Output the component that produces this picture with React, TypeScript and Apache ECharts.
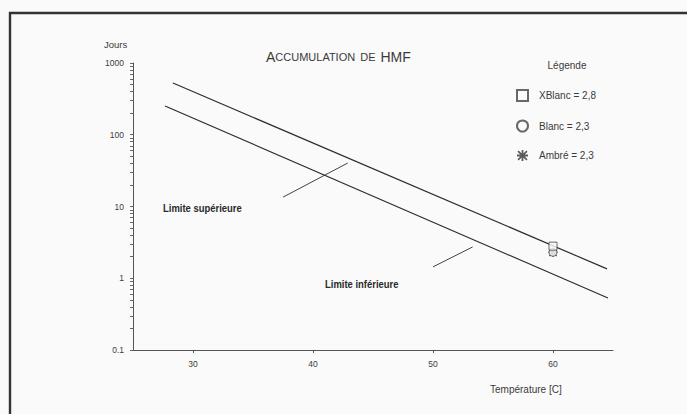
import React, { useEffect, useRef } from "react";
import * as echarts from "echarts";

// ---- data ----
const xTickValues = [30, 40, 50, 60];
const yMajorValues = [0.1, 1, 10, 100, 1000];
const upperLimit: [number, number][] = [
  [28.33, 526],
  [64.5, 1.35],
];
const lowerLimit: [number, number][] = [
  [27.67, 252],
  [64.58, 0.53],
];
const upperLeader: [number, number][] = [
  [37.5, 13.5],
  [42.9, 40.4],
];
const lowerLeader: [number, number][] = [
  [50.0, 1.44],
  [53.3, 2.73],
];
const sampleNames = ["XBlanc = 2,8", "Blanc = 2,3", "Ambré = 2,3"];
const sampleValues = [2.8, 2.3, 2.3];
const sampleTemp = 60;

const FONT = "'Liberation Sans', Arial, sans-serif";
const INK = "#3a3a3a";

const asterisk =
  "path://M0,4.2 L10,4.2 L10,5.8 L0,5.8 Z M4.2,0 L5.8,0 L5.8,10 L4.2,10 Z M1.5,0.4 L9.6,8.5 L8.5,9.6 L0.4,1.5 Z M8.5,0.4 L9.6,1.5 L1.5,9.6 L0.4,8.5 Z";

export default function App() {
  const ref = useRef<HTMLDivElement>(null);
  useEffect(() => {
    if (!ref.current) return;
    const chart = echarts.init(ref.current, undefined, { renderer: "svg" });

    const minorTicks: number[] = [];
    for (let i = 0; i < yMajorValues.length - 1; i++) {
      for (let k = 1; k <= 9; k++) minorTicks.push(yMajorValues[i] * k);
    }
    minorTicks.push(yMajorValues[yMajorValues.length - 1]);

    const symbols = ["rect", "circle", asterisk];
    const sampleSeries = sampleNames.map((name, i) => ({
      name,
      type: "scatter",
      symbol: symbols[i],
      symbolSize: i === 2 ? 9 : 8,
      z: 5 - i,
      itemStyle:
        i === 2
          ? { color: "#333", borderWidth: 0 }
          : { color: "#fafafa", borderColor: "#444", borderWidth: 1 },
      data: [[sampleTemp, sampleValues[i]]],
    }));

    const plainLine = (data: [number, number][], width = 1.2) => ({
      type: "line",
      data,
      showSymbol: false,
      symbol: "none",
      silent: true,
      lineStyle: { color: "#2e2e2e", width },
    });

    chart.setOption({
      animation: false,
      backgroundColor: "#fafafa",
      title: {
        left: 261,
        top: 43,
        text: "{b|A}{s|CCUMULATION} {s|DE} {b|HMF}",
        textStyle: {
          fontWeight: "normal",
          rich: {
            b: { fontFamily: FONT, fontSize: 14, fontWeight: "normal", color: INK },
            s: { fontFamily: FONT, fontSize: 11, fontWeight: "normal", color: INK },
          },
        },
      },
      legend: {
        orient: "vertical",
        left: 511,
        top: 84,
        itemWidth: 11,
        itemHeight: 11,
        itemGap: 17.5,
        data: sampleNames,
        textStyle: {
          fontFamily: FONT,
          fontSize: 10,
          color: INK,
          padding: [0, 0, 0, 6],
        },
      },
      grid: { left: 133, top: 63, width: 480, height: 287 },
      xAxis: {
        type: "value",
        min: 25,
        max: 65,
        axisLine: { lineStyle: { color: "#555", width: 1 } },
        axisTick: {
          show: true,
          customValues: xTickValues,
          length: 3,
          lineStyle: { color: "#555" },
        },
        axisLabel: {
          customValues: xTickValues,
          fontFamily: FONT,
          fontSize: 8.5,
          color: "#3c3c3c",
          margin: 9,
        },
        splitLine: { show: false },
      },
      yAxis: {
        type: "log",
        logBase: 10,
        min: 0.1,
        max: 1000,
        axisLine: { show: true, lineStyle: { color: "#555", width: 1 } },
        axisTick: {
          show: true,
          customValues: minorTicks,
          length: 3,
          lineStyle: { color: "#666" },
        },
        axisLabel: {
          customValues: yMajorValues,
          fontFamily: FONT,
          fontSize: 8.5,
          color: "#3c3c3c",
          margin: 9,
          formatter: (v: number) => String(Math.round(v * 10) / 10),
        },
        splitLine: { show: false },
      },
      series: [
        plainLine(upperLimit),
        plainLine(lowerLimit),
        plainLine(upperLeader, 0.9),
        plainLine(lowerLeader, 0.9),
        ...sampleSeries,
      ],
      graphic: [
        {
          type: "rect",
          silent: true,
          shape: { x: 10, y: 13, width: 720, height: 440 },
          style: { fill: "none", stroke: "#333", lineWidth: 2.4 },
        },
        {
          type: "text",
          x: 104,
          y: 39,
          style: { text: "Jours", fontFamily: FONT, fontSize: 9.5, fill: INK },
        },
        {
          type: "text",
          x: 567,
          y: 60,
          style: {
            text: "Légende",
            fontFamily: FONT,
            fontSize: 10,
            fill: INK,
            align: "center",
          },
        },
        {
          type: "text",
          x: 490,
          y: 384,
          style: {
            text: "Température [C]",
            fontFamily: FONT,
            fontSize: 10,
            fill: INK,
          },
        },
        {
          type: "text",
          x: 163,
          y: 203,
          scaleX: 0.86,
          style: {
            text: "Limite supérieure",
            fontFamily: FONT,
            fontWeight: "bold",
            fontSize: 11,
            fill: "#2a2a2a",
          },
        },
        {
          type: "text",
          x: 325,
          y: 279,
          scaleX: 0.86,
          style: {
            text: "Limite inférieure",
            fontFamily: FONT,
            fontWeight: "bold",
            fontSize: 11,
            fill: "#2a2a2a",
          },
        },
      ],
    });
    return () => chart.dispose();
  }, []);
  return (
    <div
      ref={ref}
      style={{ position: "fixed", left: 0, top: 0, width: 687, height: 414 }}
    />
  );
}
